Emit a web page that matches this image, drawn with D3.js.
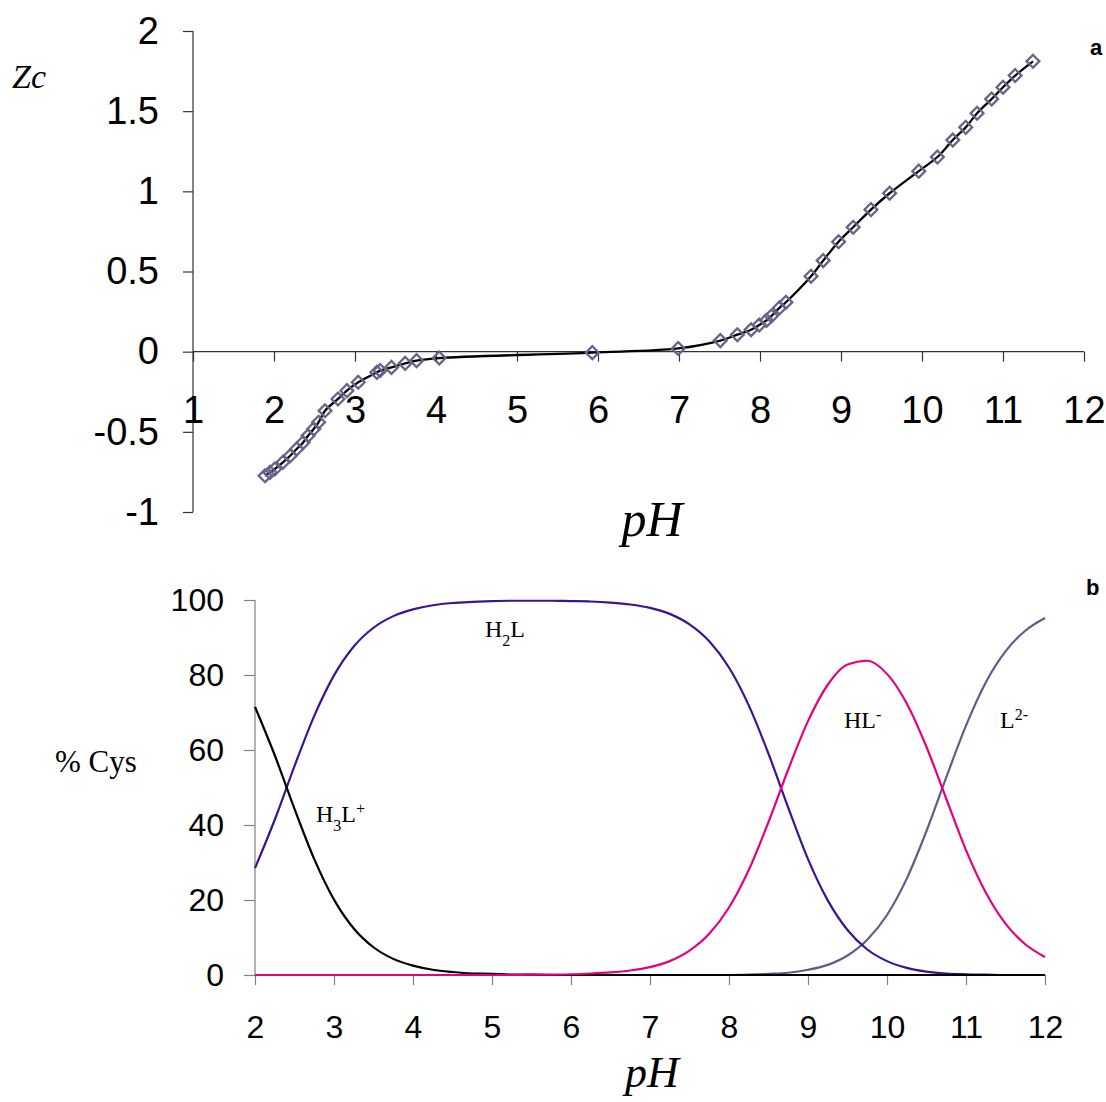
<!DOCTYPE html>
<html>
<head>
<meta charset="utf-8">
<script src="https://cdn.jsdelivr.net/npm/d3@7/dist/d3.min.js"></script>
<style>
  html, body { margin: 0; padding: 0; background: #fff; }
  svg { display: block; }
</style>
</head>
<body>
<svg id="chart" width="1106" height="1102"></svg>
<script>
// ---------- Panel a: Zc vs pH ----------
const zcPH = [1.89, 1.95, 2.01, 2.11, 2.20, 2.28, 2.36, 2.42, 2.49, 2.55, 2.63, 2.79, 2.90, 3.04, 3.27, 3.31, 3.45, 3.62, 3.76, 4.04,
              5.93, 6.99, 7.51, 7.72, 7.89, 7.99, 8.08, 8.14, 8.24, 8.32, 8.63, 8.78, 8.97, 9.15, 9.37, 9.60, 9.96, 10.19,
              10.38, 10.54, 10.68, 10.86, 11.00, 11.15, 11.37];
const zcVal = [-0.774, -0.753, -0.732, -0.690, -0.649, -0.607, -0.566, -0.524, -0.482, -0.441, -0.368, -0.295, -0.243, -0.191,
               -0.129, -0.118, -0.098, -0.073, -0.056, -0.040, -0.006, 0.020, 0.069, 0.106, 0.137, 0.166, 0.195, 0.222, 0.273,
               0.308, 0.470, 0.568, 0.686, 0.776, 0.886, 0.988, 1.126, 1.214, 1.320, 1.399, 1.487, 1.576, 1.649, 1.722, 1.811];
const topXTicks = [1, 2, 3, 4, 5, 6, 7, 8, 9, 10, 11, 12];
const topYTicks = [-1, -0.5, 0, 0.5, 1, 1.5, 2];
const topYLabels = ["-1", "-0.5", "0", "0.5", "1", "1.5", "2"];

// ---------- Panel b: species distribution ----------
const distPH = [2.00, 2.25, 2.50, 2.75, 3.00, 3.25, 3.50, 3.75, 4.00, 4.25, 4.50, 4.75, 5.00, 5.25, 5.50, 5.75, 6.00, 6.25, 6.50, 6.75,
                7.00, 7.25, 7.50, 7.75, 8.00, 8.25, 8.50, 8.75, 9.00, 9.25, 9.50, 9.75, 10.00, 10.25, 10.50, 10.75, 11.00, 11.25,
                11.50, 11.75, 12.00];
const h3l = [71.5, 58.6, 44.3, 30.9, 20.1, 12.4, 7.4, 4.3, 2.5, 1.4, 0.8, 0.4, 0.3, 0.1, 0.1, 0, 0, 0, 0, 0,
             0, 0, 0, 0, 0, 0, 0, 0, 0, 0, 0, 0, 0, 0, 0, 0, 0, 0, 0, 0, 0];
const h2l = [28.5, 41.4, 55.7, 69.1, 79.9, 87.6, 92.6, 95.7, 97.5, 98.6, 99.2, 99.5, 99.7, 99.8, 99.8, 99.8, 99.7, 99.6, 99.3, 98.8,
             97.9, 96.3, 93.5, 89.0, 82.0, 71.9, 59.0, 44.6, 30.9, 19.9, 12.0, 6.8, 3.7, 1.9, 0.9, 0.4, 0.2, 0.1, 0, 0, 0];
const hl  = [0, 0, 0, 0, 0, 0, 0, 0, 0, 0, 0, 0, 0, 0, 0.1, 0.1, 0.2, 0.4, 0.7, 1.2,
             2.1, 3.7, 6.5, 11.0, 18.0, 28.0, 40.8, 54.8, 67.7, 77.4, 82.8, 83.8, 80.3, 72.4, 60.8, 47.0, 33.3, 22.0, 13.7, 8.2, 4.8];
const l2  = [0, 0, 0, 0, 0, 0, 0, 0, 0, 0, 0, 0, 0, 0, 0, 0, 0, 0, 0, 0,
             0, 0, 0, 0, 0, 0.1, 0.3, 0.6, 1.4, 2.7, 5.2, 9.4, 16.0, 25.7, 38.4, 52.7, 66.5, 78.0, 86.3, 91.8, 95.2];
const botXTicks = [2, 3, 4, 5, 6, 7, 8, 9, 10, 11, 12];
const botYTicks = [0, 20, 40, 60, 80, 100];

const svg = d3.select("#chart");
const SANS = "'Liberation Sans', Arial, sans-serif";
const SERIF = "'Liberation Serif', 'Times New Roman', serif";

// ================= Panel a =================
const xA = d3.scaleLinear().domain([1, 12]).range([193, 1084]);
const yA = d3.scaleLinear().domain([-1, 2]).range([512, 31]);
const gA = svg.append("g");

const axA_y = gA.append("g").attr("transform", `translate(${xA(1)},0)`)
  .call(d3.axisLeft(yA).tickValues(topYTicks).tickSize(10).tickPadding(24)
        .tickFormat((d, i) => topYLabels[topYTicks.indexOf(d)]));
const axA_x = gA.append("g").attr("transform", `translate(0,${yA(0)})`)
  .call(d3.axisBottom(xA).tickValues(topXTicks).tickSize(10).tickPadding(34).tickFormat(d3.format("d")));
[axA_y, axA_x].forEach(ax => {
  ax.select(".domain").attr("stroke", "#333").attr("stroke-width", 1.2);
  ax.selectAll(".tick line").attr("stroke", "#333").attr("stroke-width", 1.2);
  ax.selectAll(".tick text").attr("font-family", SANS).attr("font-size", 38).attr("fill", "#000");
});
axA_y.select(".domain").attr("d", `M0,${yA(2)}V${yA(-1)}`);
axA_x.select(".domain").attr("d", `M${xA(1)},0H${xA(12)}`);

gA.append("path")
  .datum(zcPH.map((p, i) => [p, zcVal[i]]))
  .attr("fill", "none").attr("stroke", "#000").attr("stroke-width", 2.3)
  .attr("d", d3.line().x(d => xA(d[0])).y(d => yA(d[1])).curve(d3.curveCatmullRom.alpha(0.5)));

gA.selectAll("path.mk").data(zcPH.map((p, i) => [p, zcVal[i]])).join("path")
  .attr("class", "mk")
  .attr("d", d3.symbol(d3.symbolSquare, 82)())
  .attr("transform", d => `translate(${xA(d[0])},${yA(d[1])}) rotate(45)`)
  .attr("fill", "none").attr("stroke", "#6a6289").attr("stroke-width", 2.3);

gA.append("text").attr("x", 12).attr("y", 88)
  .attr("font-family", SERIF).attr("font-style", "italic").attr("font-size", 34).text("Zc");
gA.append("text").attr("x", 652).attr("y", 536).attr("text-anchor", "middle")
  .attr("font-family", SERIF).attr("font-style", "italic").attr("font-size", 50).text("pH");
gA.append("text").attr("x", 1090).attr("y", 55)
  .attr("font-family", SANS).attr("font-weight", "bold").attr("font-size", 22).text("a");

// ================= Panel b =================
const xB = d3.scaleLinear().domain([2, 12]).range([255, 1045]);
const yB = d3.scaleLinear().domain([0, 100]).range([975, 600]);
const gB = svg.append("g");

const axB_y = gB.append("g").attr("transform", `translate(${xB(2)},0)`)
  .call(d3.axisLeft(yB).tickValues(botYTicks).tickSize(11).tickPadding(20).tickFormat(d3.format("d")));
const axB_x = gB.append("g").attr("transform", `translate(0,${yB(0)})`)
  .call(d3.axisBottom(xB).tickValues(botXTicks).tickSize(10).tickPadding(30).tickFormat(d3.format("d")));
[axB_y, axB_x].forEach(ax => {
  ax.select(".domain").attr("stroke", "#808080").attr("stroke-width", 1.2);
  ax.selectAll(".tick line").attr("stroke", "#808080").attr("stroke-width", 1.2);
  ax.selectAll(".tick text").attr("font-family", SANS).attr("font-size", 32).attr("fill", "#000");
});
axB_y.select(".domain").attr("d", `M0,${yB(100)}V${yB(0)}`);
axB_x.select(".domain").attr("d", `M${xB(2)},0H${xB(12)}`);

const lineB = d3.line().x((d, i) => xB(distPH[i])).y(d => yB(d)).curve(d3.curveMonotoneX);
const series = [
  { v: l2,  c: "#645a86" },
  { v: h2l, c: "#3d1490" },
  { v: h3l, c: "#000000" },
  { v: hl,  c: "#e6007e" }
];
series.forEach(s => {
  gB.append("path").datum(s.v).attr("fill", "none").attr("stroke", s.c)
    .attr("stroke-width", 2.2).attr("d", lineB);
});

gB.append("text").attr("x", 55).attr("y", 772)
  .attr("font-family", SERIF).attr("font-size", 31).text("% Cys");

function species(x, y, parts) {
  const t = gB.append("text").attr("x", x).attr("y", y)
    .attr("font-family", SERIF).attr("font-size", 24);
  parts.forEach(p => {
    const ts = t.append("tspan").text(p.t);
    if (p.sub) ts.attr("font-size", 16).attr("baseline-shift", "sub");
    if (p.sup) ts.attr("font-size", 16).attr("baseline-shift", "super");
  });
}
species(316, 822, [{ t: "H" }, { t: "3", sub: true }, { t: "L" }, { t: "+", sup: true }]);
species(485, 637, [{ t: "H" }, { t: "2", sub: true }, { t: "L" }]);
species(844, 728, [{ t: "HL" }, { t: "-", sup: true }]);
species(1000, 728, [{ t: "L" }, { t: "2-", sup: true }]);

gB.append("text").attr("x", 652).attr("y", 1087).attr("text-anchor", "middle")
  .attr("font-family", SERIF).attr("font-style", "italic").attr("font-size", 44).text("pH");
gB.append("text").attr("x", 1086).attr("y", 595)
  .attr("font-family", SANS).attr("font-weight", "bold").attr("font-size", 22).text("b");
</script>
</body>
</html>
